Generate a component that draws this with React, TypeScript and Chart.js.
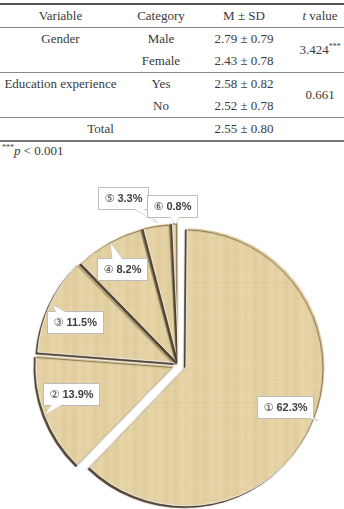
import React, { useEffect, useLayoutEffect, useRef } from 'react';
import { Chart, registerables } from 'chart.js';

Chart.register(...registerables);

// ---- Table data ----
const tableHeaders = ['Variable', 'Category', 'M ± SD', 'value'];
const genderLabel = 'Gender';
const genderCategories = ['Male', 'Female'];
const genderStats = ['2.79 ± 0.79', '2.43 ± 0.78'];
const genderT = '3.424';
const eduLabel = 'Education experience';
const eduCategories = ['Yes', 'No'];
const eduStats = ['2.58 ± 0.82', '2.52 ± 0.78'];
const eduT = '0.661';
const totalLabel = 'Total';
const totalStat = '2.55 ± 0.80';
const footnoteText = ' < 0.001';

// ---- Pie data ----
const sliceNumbers = ['①', '②', '③', '④', '⑤', '⑥'];
const sliceValues = [62.3, 13.9, 11.5, 8.2, 3.3, 0.8];

// ---- Pie styling ----
// Chart.js translates an arc by offset/4 pixels
const sliceOffsets = [30, 18, 12, 6, 8, 12];
const labelRadius = [0.82, 0.81, 0.81, 0.8, 1.26, 1.14];
const labelShiftDeg = [0, 5, -3, -1.5, -10, -1];
const tipRadius = [1.08, 1.03, 1.0, 1.0, 1.03, 1.01];

function makePattern(ctx: CanvasRenderingContext2D): CanvasPattern | string {
  const pc = document.createElement('canvas');
  pc.width = 60;
  pc.height = 60;
  const p = pc.getContext('2d');
  if (!p) return '#e3cf9f';
  p.fillStyle = '#e5d2a4';
  p.fillRect(0, 0, 60, 60);
  for (let x = 0; x < 60; x++) {
    const s =
      Math.sin(x * 0.61) * 0.45 + Math.sin(x * 2.3 + 1) * 0.25 + Math.sin(x * 0.21 + 2) * 0.3;
    p.fillStyle = s > 0 ? `rgba(248,238,205,${0.2 * s})` : `rgba(175,135,75,${-0.1 * s})`;
    p.fillRect(x, 0, 1, 60);
  }
  for (let y = 4; y < 60; y += 11) {
    p.fillStyle = 'rgba(170,130,70,0.05)';
    p.fillRect(0, y, 60, 1);
  }
  return ctx.createPattern(pc, 'repeat') || '#e3cf9f';
}

const pieDeco = {
  id: 'pieDeco',
  beforeDatasetsDraw(chart: any) {
    const ctx = chart.ctx as CanvasRenderingContext2D;
    const meta = chart.getDatasetMeta(0);
    const baseR = meta.controller.outerRadius;
    // keep exploded big slices at the same radius as the others
    meta.data.forEach((arc: any, i: number) => {
      const fix = 1 - Math.sin(Math.min(Math.PI, arc.circumference || 0));
      arc.outerRadius = baseR - (sliceOffsets[i] / 4) * fix;
    });
    ctx.save();
    ctx.shadowColor = 'rgba(60,45,25,0.85)';
    ctx.shadowOffsetX = -2;
    ctx.shadowOffsetY = 2;
    ctx.shadowBlur = 1;
  },
  afterDatasetsDraw(chart: any) {
    const ctx = chart.ctx as CanvasRenderingContext2D;
    ctx.restore();
    const meta = chart.getDatasetMeta(0);
    const baseR = meta.controller.outerRadius;
    meta.data.forEach((arc: any, i: number) => {
      const { x, y, startAngle, endAngle } = arc.getProps(['x', 'y', 'startAngle', 'endAngle'], true);
      const mid = (startAngle + endAngle) / 2;
      const a = mid + (labelShiftDeg[i] * Math.PI) / 180;
      const lx = x + Math.cos(a) * baseR * labelRadius[i];
      const ly = y + Math.sin(a) * baseR * labelRadius[i];
      const tx = x + Math.cos(mid) * baseR * tipRadius[i];
      const ty = y + Math.sin(mid) * baseR * tipRadius[i];

      const numFont = '11px "DejaVu Sans", sans-serif';
      const pctFont = 'bold 11px "Liberation Sans", Arial, sans-serif';
      const pct = ' ' + sliceValues[i].toFixed(1) + '%';
      ctx.font = numFont;
      const w1 = ctx.measureText(sliceNumbers[i]).width;
      ctx.font = pctFont;
      const w2 = ctx.measureText(pct).width;
      const bw = Math.round(w1 + w2 + 12);
      const bh = 22;
      const bx = Math.round(lx - bw / 2) + 0.5;
      const by = Math.round(ly - bh / 2) + 0.5;

      const cx = bx + bw / 2;
      const cy = by + bh / 2;
      const inside = tx > bx && tx < bx + bw && ty > by && ty < by + bh;
      let tail: number[][] | null = null;
      if (!inside) {
        const dx = tx - cx;
        const dy = ty - cy;
        const sx = dx !== 0 ? bw / 2 / Math.abs(dx) : Infinity;
        const sy = dy !== 0 ? bh / 2 / Math.abs(dy) : Infinity;
        if (sx < sy) {
          const px = dx > 0 ? bx + bw : bx;
          const py = cy + dy * sx;
          const y1 = Math.max(by + 1, py - 5);
          const y2 = Math.min(by + bh - 1, py + 5);
          const xin = dx > 0 ? px - 1 : px + 1;
          tail = [[xin, y1], [tx, ty], [xin, y2]];
        } else {
          const py = dy > 0 ? by + bh : by;
          const px = cx + dx * sy;
          const x1 = Math.max(bx + 1, px - 5);
          const x2 = Math.min(bx + bw - 1, px + 5);
          const yin = dy > 0 ? py - 1 : py + 1;
          tail = [[x1, yin], [tx, ty], [x2, yin]];
        }
      }
      ctx.save();
      ctx.lineWidth = 1;
      ctx.strokeStyle = '#bdbdbd';
      ctx.fillStyle = '#ffffff';
      if (tail) {
        ctx.beginPath();
        ctx.moveTo(tail[0][0], tail[0][1]);
        ctx.lineTo(tail[1][0], tail[1][1]);
        ctx.lineTo(tail[2][0], tail[2][1]);
        ctx.closePath();
        ctx.fill();
        ctx.stroke();
      }
      ctx.fillRect(bx, by, bw, bh);
      ctx.strokeRect(bx, by, bw, bh);
      if (tail) {
        ctx.beginPath();
        ctx.moveTo(tail[0][0], tail[0][1]);
        ctx.lineTo(tail[1][0], tail[1][1]);
        ctx.lineTo(tail[2][0], tail[2][1]);
        ctx.closePath();
        ctx.fill();
      }
      ctx.fillStyle = '#404040';
      ctx.textBaseline = 'middle';
      ctx.textAlign = 'left';
      ctx.font = numFont;
      ctx.fillText(sliceNumbers[i], bx + 6, cy + 0.5);
      ctx.font = pctFont;
      ctx.fillText(pct, bx + 6 + w1, cy + 0.5);
      ctx.restore();
    });
  },
};

function PieChart() {
  const ref = useRef<HTMLCanvasElement>(null);
  useEffect(() => {
    const canvas = ref.current;
    if (!canvas) return;
    const ctx = canvas.getContext('2d');
    if (!ctx) return;
    const pattern = makePattern(ctx);
    const chart = new Chart(canvas, {
      type: 'pie',
      data: {
        labels: sliceNumbers,
        datasets: [
          {
            data: sliceValues,
            backgroundColor: pattern as any,
            borderColor: 'rgba(255,255,255,0.75)',
            borderWidth: 1,
            offset: sliceOffsets,
          },
        ],
      },
      options: {
        responsive: false,
        animation: false,
        devicePixelRatio: 1,
        radius: 139,
        layout: { padding: { left: 14, right: 0, top: 59, bottom: 0 } },
        plugins: {
          legend: { display: false },
          tooltip: { enabled: false },
        },
      } as any,
      plugins: [pieDeco as any],
    });
    return () => chart.destroy();
  }, []);
  return (
    <canvas
      ref={ref}
      width={344}
      height={349}
      style={{ position: 'absolute', left: 0, top: 160, width: 344, height: 349 }}
    />
  );
}

const cell: React.CSSProperties = {
  padding: 0,
  textAlign: 'center',
  lineHeight: '22px',
  height: 22,
  verticalAlign: 'middle',
  whiteSpace: 'nowrap',
};

export default function App() {
  useLayoutEffect(() => {
    document.body.style.margin = '0';
    document.body.style.background = '#ffffff';
  }, []);
  return (
    <div style={{ position: 'relative', width: 344, height: 509, overflow: 'hidden', background: '#fff' }}>
      <table
        style={{
          position: 'absolute',
          top: 3,
          left: 0,
          width: 344,
          borderCollapse: 'collapse',
          tableLayout: 'fixed',
          fontFamily: '"Liberation Serif", "Times New Roman", serif',
          fontSize: 13,
          color: '#3a3a3a',
        }}
      >
        <colgroup>
          <col style={{ width: 121 }} />
          <col style={{ width: 80 }} />
          <col style={{ width: 86 }} />
          <col style={{ width: 57 }} />
        </colgroup>
        <tbody>
          <tr style={{ borderTop: '2px solid #555', borderBottom: '1px solid #888' }}>
            <td style={cell}>{tableHeaders[0]}</td>
            <td style={cell}>{tableHeaders[1]}</td>
            <td style={cell}>{tableHeaders[2]}</td>
            <td style={{ ...cell, paddingLeft: 9 }}>
              <i>t</i> {tableHeaders[3]}
            </td>
          </tr>
          <tr>
            <td rowSpan={2} style={{ ...cell, verticalAlign: 'top' }}>
              {genderLabel}
            </td>
            <td style={cell}>{genderCategories[0]}</td>
            <td style={cell}>{genderStats[0]}</td>
            <td rowSpan={2} style={{ ...cell, paddingLeft: 9 }}>
              {genderT}
              <sup style={{ fontSize: 8, verticalAlign: 'top', lineHeight: '16px' }}>***</sup>
            </td>
          </tr>
          <tr style={{ borderBottom: '1px solid #888' }}>
            <td style={cell}>{genderCategories[1]}</td>
            <td style={cell}>{genderStats[1]}</td>
          </tr>
          <tr>
            <td rowSpan={2} style={{ ...cell, verticalAlign: 'top' }}>
              {eduLabel}
            </td>
            <td style={cell}>{eduCategories[0]}</td>
            <td style={cell}>{eduStats[0]}</td>
            <td rowSpan={2} style={{ ...cell, paddingLeft: 9 }}>
              {eduT}
            </td>
          </tr>
          <tr style={{ borderBottom: '1px solid #888' }}>
            <td style={cell}>{eduCategories[1]}</td>
            <td style={cell}>{eduStats[1]}</td>
          </tr>
          <tr style={{ borderBottom: '2px solid #777' }}>
            <td colSpan={2} style={cell}>
              {totalLabel}
            </td>
            <td style={cell}>{totalStat}</td>
            <td style={cell}></td>
          </tr>
        </tbody>
      </table>
      <div
        style={{
          position: 'absolute',
          top: 143,
          left: 2,
          fontFamily: '"Liberation Serif", "Times New Roman", serif',
          fontSize: 13,
          lineHeight: '16px',
          color: '#3a3a3a',
        }}
      >
        <sup style={{ fontSize: 8, verticalAlign: 'top', lineHeight: '10px' }}>***</sup>
        <i>p</i>
        {footnoteText}
      </div>
      <PieChart />
    </div>
  );
}
